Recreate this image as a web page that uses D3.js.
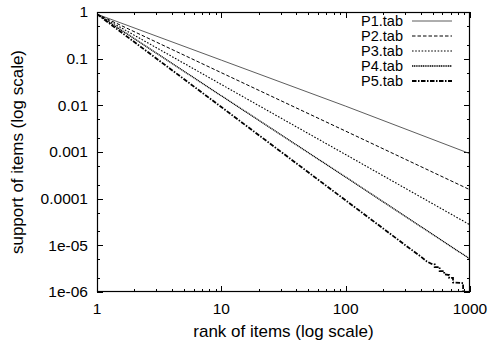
<!DOCTYPE html>
<html>
<head>
<meta charset="utf-8">
<script src="https://cdn.jsdelivr.net/npm/d3@7/dist/d3.min.js"></script>
<style>
  html, body { margin: 0; padding: 0; background: #fff; }
  svg { display: block; }
  text { font-family: "Liberation Sans", Arial, Helvetica, sans-serif; fill: #000; }
</style>
</head>
<body>
<svg id="chart" width="488" height="345"></svg>
<script>
// ---- data ----
const seriesNames = ["P1.tab", "P2.tab", "P3.tab", "P4.tab", "P5.tab"];
const ranksMain = [1, 10, 100, 1000];
const p1 = [0.9, 0.093, 0.0096, 0.00092];
const p2 = [0.9, 0.05, 0.0028, 0.000155];
const p3 = [0.9, 0.028, 0.00088, 0.0000275];
const p4 = [0.9, 0.016, 0.00029, 0.0000051];
const ranksP5 = [1, 10, 100, 200, 300, 400, 450, 500, 520, 520, 570, 570, 620, 620, 680, 680, 730, 730, 880, 880];
const p5 = [0.9, 0.0092, 0.000092, 0.000023, 0.0000102, 0.0000058, 0.0000045, 0.0000039, 0.0000039, 0.0000034,
            0.0000034, 0.0000028, 0.0000028, 0.0000024, 0.0000023, 0.000002, 0.000002, 0.0000016, 0.00000155, 0.000001];
const xTickLabels = ["1", "10", "100", "1000"];
const yTickLabels = ["1", "0.1", "0.01", "0.001", "0.0001", "1e-05", "1e-06"];
const xTitle = "rank of items (log scale)";
const yTitle = "support of items (log scale)";

// ---- layout ----
const margin = { left: 97, right: 18, top: 12, bottom: 53 };
const W = 488, H = 345;
const svg = d3.select("#chart");

const x = d3.scaleLog().domain([1, 1000]).range([margin.left, W - margin.right]);
const y = d3.scaleLog().domain([1e-6, 1]).range([H - margin.bottom, margin.top]);

const x0 = x.range()[0], x1 = x.range()[1];
const y0 = y.range()[0], y1 = y.range()[1];

svg.append("defs").append("clipPath").attr("id", "clip")
  .append("rect").attr("x", x0).attr("y", y1).attr("width", x1 - x0).attr("height", y0 - y1);

// ticks (inward, mirrored)
const xMajor = xTickLabels.map(Number);
const xMinor = [];
for (let d = 1; d < 1000; d *= 10) for (let k = 2; k <= 9; k++) xMinor.push(d * k);
const yMajor = yTickLabels.map(Number);
const yMinor = [];
for (let d = 1e-6; d < 0.99; d *= 10) for (const k of [2, 5]) yMinor.push(d * k);

const tickG = svg.append("g").attr("stroke", "#000").attr("stroke-width", 1).attr("shape-rendering", "crispEdges");
const majL = 6, minL = 3;
xMajor.concat(xMinor).forEach(v => {
  const L = xMajor.includes(v) ? majL : minL;
  const px = Math.round(x(v)) + 0.5;
  tickG.append("line").attr("x1", px).attr("x2", px).attr("y1", y0).attr("y2", y0 - L);
  tickG.append("line").attr("x1", px).attr("x2", px).attr("y1", y1).attr("y2", y1 + L);
});
yMajor.concat(yMinor).forEach(v => {
  const L = yMajor.some(m => Math.abs(m - v) / v < 1e-6) ? majL : minL;
  const py = Math.round(y(v)) + 0.5;
  tickG.append("line").attr("x1", x0).attr("x2", x0 + L).attr("y1", py).attr("y2", py);
  tickG.append("line").attr("x1", x1).attr("x2", x1 - L).attr("y1", py).attr("y2", py);
});

// tick labels
const fsTick = 15.5;
svg.append("g").selectAll("text").data(xTickLabels).join("text")
  .attr("x", d => x(+d)).attr("y", y0 + 17).attr("dy", "0.35em")
  .attr("text-anchor", "middle").attr("font-size", fsTick).text(d => d);
svg.append("g").selectAll("text").data(yTickLabels).join("text")
  .attr("x", x0 - 9).attr("y", d => y(+d)).attr("dy", "0.35em")
  .attr("text-anchor", "end").attr("font-size", fsTick).text(d => d);

// axis titles
svg.append("text").attr("x", (x0 + x1) / 2).attr("y", 331).attr("dy", "0.35em")
  .attr("text-anchor", "middle").attr("font-size", 17).text(xTitle);
svg.append("text").attr("transform", `translate(17,${(y0 + y1) / 2}) rotate(-90)`)
  .attr("dy", "0.35em").attr("text-anchor", "middle").attr("font-size", 17).text(yTitle);

// series
const styles = [
  { w: 0.8, dash: null, c: "#333" },
  { w: 1.0, dash: "3.5,2", c: "#000" },
  { w: 1.1, dash: "1.6,1.6", c: "#000" },
  { w: 1.3, dash: "1.2,0.6", c: "#000" },
  { w: 1.8, dash: "4.5,1.5,1.5,1.5", c: "#000" }
];
const seriesData = [
  ranksMain.map((r, i) => [r, p1[i]]),
  ranksMain.map((r, i) => [r, p2[i]]),
  ranksMain.map((r, i) => [r, p3[i]]),
  ranksMain.map((r, i) => [r, p4[i]]),
  ranksP5.map((r, i) => [r, p5[i]])
];
const line = d3.line().x(d => x(d[0])).y(d => y(d[1]));
const lg = svg.append("g").attr("clip-path", "url(#clip)");
seriesData.forEach((data, i) => {
  lg.append("path").datum(data).attr("d", line)
    .attr("fill", "none").attr("stroke", styles[i].c)
    .attr("stroke-width", styles[i].w)
    .attr("stroke-dasharray", styles[i].dash);
});

// legend
const leg = svg.append("g");
seriesNames.forEach((name, i) => {
  const ly = 21 + i * 15;
  leg.append("text").attr("x", 403).attr("y", ly).attr("dy", "0.35em")
    .attr("text-anchor", "end").attr("font-size", 14.5).text(name);
  leg.append("line").attr("x1", 412).attr("x2", 452).attr("y1", ly).attr("y2", ly)
    .attr("stroke", styles[i].c).attr("stroke-width", styles[i].w)
    .attr("stroke-dasharray", styles[i].dash);
});

// frame
svg.append("rect").attr("x", x0 + 0.5).attr("y", y1 + 0.5)
  .attr("width", x1 - x0 - 1).attr("height", y0 - y1 - 1)
  .attr("fill", "none").attr("stroke", "#000").attr("stroke-width", 1.2);
</script>
</body>
</html>
